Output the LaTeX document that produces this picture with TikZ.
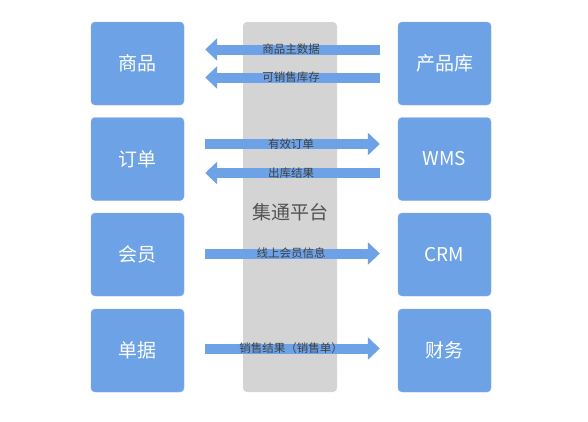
\documentclass[tikz,border=0pt]{standalone}
\usepackage{fontspec}
\setmainfont{Noto Sans CJK SC}
\usetikzlibrary{arrows.meta,positioning}
\definecolor{boxblue}{RGB}{110,162,230}
\definecolor{platgray}{RGB}{212,212,212}
\definecolor{labelgray}{RGB}{64,64,64}

\begin{document}
\begin{tikzpicture}[x=1pt,y=-1pt,
		sysbox/.style={rectangle,rounded corners=4pt,fill=boxblue,draw=boxblue!85!white,
			minimum width=93pt,minimum height=83pt,text=white,font=\fontsize{19}{23}\selectfont},
		flow/.style={boxblue,line width=10pt,-{Triangle[length=12pt,width=22pt]},
			shorten <=18pt,shorten >=21pt},
		flowlabel/.style={midway,text=labelgray,font=\fontsize{11.5}{13}\selectfont,inner sep=0pt}]
		
		\useasboundingbox (0,0) rectangle (588,421);
		
		% platform column
		\fill[platgray,rounded corners=4pt] (243,22) rectangle (337,392);
		\node[text=labelgray!90!white,font=\fontsize{19}{23}\selectfont] (plat) at (290,212) {集通平台};
		
		% left side
		\node[sysbox] (sp) at (137.5,63.5) {商品};
		\node[sysbox] (dd) at (137.5,159) {订单};
		\node[sysbox] (hy) at (137.5,254.5) {会员};
		\node[sysbox] (dj) at (137.5,350.5) {单据};
		
		% right side
		\node[sysbox] (cpk) at (444.5,63.5) {产品库};
		\node[sysbox] (wms) at (444.5,159) {WMS};
		\node[sysbox] (crm) at (444.5,254.5) {CRM};
		\node[sysbox] (cw) at (444.5,350.5) {财务};
		
		\draw[flow] ([yshift=14pt]cpk.west) -- ([yshift=14pt]sp.east) node[flowlabel] {商品主数据};
		\draw[flow] ([yshift=-14pt]cpk.west) -- ([yshift=-14pt]sp.east) node[flowlabel] {可销售库存};
		\draw[flow,shorten <=21pt,shorten >=18pt] ([yshift=15pt]dd.east) -- ([yshift=15pt]wms.west) node[flowlabel] {有效订单};
		\draw[flow] ([yshift=-14pt]wms.west) -- ([yshift=-14pt]dd.east) node[flowlabel] {出库结果};
		\draw[flow,shorten <=21pt,shorten >=18pt] ([yshift=1pt]hy.east) -- ([yshift=1pt]crm.west) node[flowlabel] {线上会员信息};
		\draw[flow,shorten <=21pt,shorten >=18pt] ([yshift=2pt]dj.east) -- ([yshift=2pt]cw.west) node[flowlabel] {销售结果（销售单）};
		
	\end{tikzpicture}
\end{document}
